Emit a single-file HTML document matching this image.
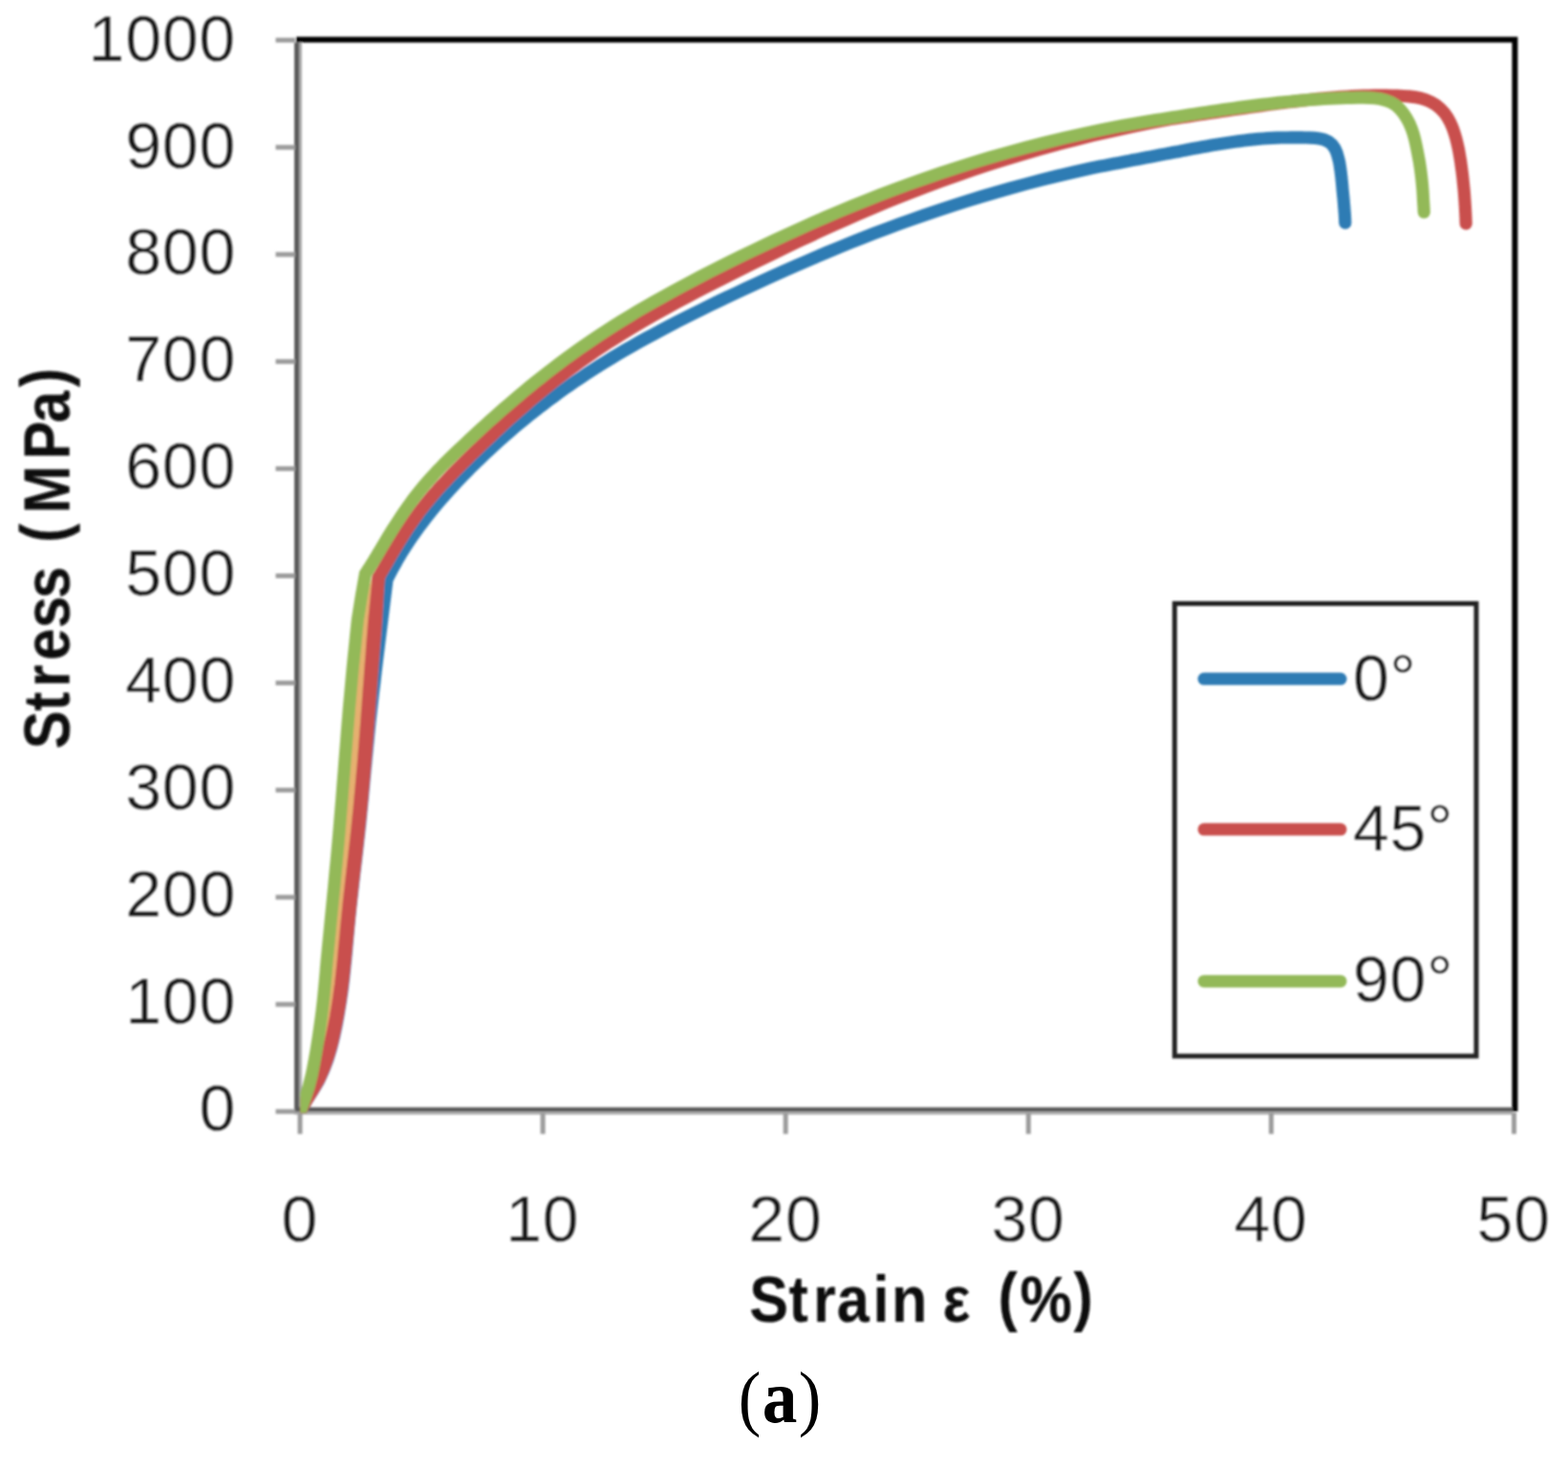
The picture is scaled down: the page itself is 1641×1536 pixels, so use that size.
<!DOCTYPE html>
<html lang="en">
<head>
<meta charset="utf-8">
<title>Stress-strain curves (a)</title>
<style>
html,body{margin:0;padding:0;background:#fff;}
body{width:1641px;height:1536px;overflow:hidden;}
svg{display:block;}
.num{font-family:"Liberation Sans","DejaVu Sans",sans-serif;font-size:68px;fill:#151515;letter-spacing:0.8px;stroke:#fff;stroke-width:0.35px;stroke-linejoin:round;}
.ttl{font-family:"Liberation Sans","DejaVu Sans",sans-serif;font-size:68px;font-weight:bold;fill:#0a0a0a;}
.cap{font-family:"Liberation Serif","DejaVu Serif",serif;fill:#000;}
</style>
</head>
<body>
<svg width="1641" height="1536" viewBox="0 0 1641 1536">
<defs>
<clipPath id="plot"><rect x="314.3" y="38" width="1275" height="1126.5"/></clipPath>
<filter id="soft" x="-5%" y="-5%" width="110%" height="110%"><feGaussianBlur stdDeviation="1.15"/></filter>
</defs>
<rect width="1641" height="1536" fill="#fff"/>
<g filter="url(#soft)">
<!-- plot border -->
<path d="M310,41.5 H1585.4 V1163" fill="none" stroke="#000" stroke-width="6" stroke-linejoin="miter"/>
<!-- axes -->
<rect x="308" y="44.5" width="5.4" height="1120.5" fill="#5c5c5c"/><rect x="313.4" y="44.5" width="2.4" height="1114.5" fill="#a2a2a2"/>
<rect x="308" y="1158.6" width="1275" height="4.6" fill="#585858"/><rect x="308" y="1163.2" width="1275" height="3" fill="#a8a8a8"/>
<g stroke="#9c9c9c" stroke-width="5"><line x1="288.5" y1="42.0" x2="309" y2="42.0"/><line x1="288.5" y1="154.1" x2="309" y2="154.1"/><line x1="288.5" y1="266.2" x2="309" y2="266.2"/><line x1="288.5" y1="378.3" x2="309" y2="378.3"/><line x1="288.5" y1="490.4" x2="309" y2="490.4"/><line x1="288.5" y1="602.5" x2="309" y2="602.5"/><line x1="288.5" y1="714.6" x2="309" y2="714.6"/><line x1="288.5" y1="826.7" x2="309" y2="826.7"/><line x1="288.5" y1="938.8" x2="309" y2="938.8"/><line x1="288.5" y1="1050.9" x2="309" y2="1050.9"/><line x1="288.5" y1="1163.0" x2="309" y2="1163.0"/><line x1="314.0" y1="1164" x2="314.0" y2="1186.5"/><line x1="568.1" y1="1164" x2="568.1" y2="1186.5"/><line x1="822.2" y1="1164" x2="822.2" y2="1186.5"/><line x1="1076.3" y1="1164" x2="1076.3" y2="1186.5"/><line x1="1330.4" y1="1164" x2="1330.4" y2="1186.5"/><line x1="1584.5" y1="1164" x2="1584.5" y2="1186.5"/></g>
<!-- curves -->
<g clip-path="url(#plot)" fill="none" stroke-width="13.2" stroke-linejoin="miter" stroke-miterlimit="6" stroke-linecap="round">
<path d="M314.0,1163.0 L320.3,1152.3 L327.0,1141.9 L333.3,1131.2 L338.5,1119.9 L342.9,1108.3 L346.5,1096.4 L349.5,1084.4 L352.1,1072.2 L354.3,1060.0 L356.3,1047.8 L358.1,1035.5 L359.6,1023.2 L360.9,1010.8 L362.1,998.5 L363.2,986.1 L364.3,973.8 L365.5,961.4 L366.7,949.1 L368.1,936.7 L369.5,924.4 L370.9,912.1 L372.4,899.8 L373.8,887.4 L375.2,875.1 L376.6,862.8 L377.8,850.4 L379.0,838.1 L380.2,825.7 L381.3,813.4 L382.5,801.0 L383.7,788.7 L384.9,776.3 L386.1,764.0 L387.4,751.6 L388.8,739.3 L390.2,727.0 L391.7,714.6 L393.1,702.3 L394.6,690.0 L405.0,606.4 L406.7,603.1 L408.4,599.8 L410.1,596.5 L411.9,593.3 L413.7,590.0 L415.5,586.8 L417.4,583.5 L419.3,580.3 L421.3,577.1 L423.3,573.9 L425.4,570.7 L427.5,567.5 L429.6,564.2 L431.8,561.0 L434.1,557.8 L436.4,554.6 L438.7,551.4 L441.1,548.2 L443.6,544.9 L446.1,541.7 L448.7,538.4 L451.3,535.2 L454.0,531.9 L456.7,528.6 L459.5,525.3 L462.4,522.0 L465.3,518.6 L468.3,515.3 L471.3,511.9 L474.5,508.5 L477.7,505.1 L480.9,501.6 L484.2,498.2 L487.7,494.7 L491.1,491.1 L494.7,487.6 L498.3,484.0 L502.1,480.4 L505.9,476.8 L509.7,473.1 L513.7,469.4 L517.8,465.7 L521.9,461.9 L526.2,458.1 L530.5,454.3 L534.9,450.5 L539.4,446.6 L544.1,442.7 L548.8,438.8 L553.6,434.9 L558.6,431.0 L563.6,427.0 L568.8,423.1 L574.1,419.1 L579.5,415.1 L585.0,411.0 L590.6,407.0 L596.4,403.0 L602.2,398.9 L608.3,394.9 L614.4,390.8 L620.7,386.7 L627.1,382.6 L633.7,378.6 L640.4,374.5 L647.2,370.4 L654.2,366.3 L661.4,362.2 L668.7,358.0 L676.2,353.9 L683.9,349.8 L691.7,345.6 L699.7,341.4 L707.8,337.1 L716.2,332.9 L724.7,328.6 L733.4,324.3 L742.3,319.9 L751.4,315.5 L760.8,311.1 L770.3,306.6 L780.0,302.0 L789.9,297.4 L800.1,292.8 L810.5,288.1 L821.1,283.3 L831.9,278.5 L843.0,273.7 L854.4,268.8 L865.9,263.9 L877.8,259.0 L889.9,254.0 L902.3,249.1 L914.9,244.2 L927.8,239.3 L941.0,234.4 L954.5,229.6 L968.3,224.7 L982.4,220.0 L996.8,215.2 L1011.6,210.5 L1026.6,205.9 L1042.0,201.4 L1057.7,196.9 L1073.8,192.5 L1090.3,188.2 L1107.0,184.0 L1124.2,180.0 L1141.8,176.0 L1146.6,175.1 L1151.4,174.1 L1156.3,173.2 L1161.1,172.3 L1166.0,171.3 L1170.8,170.4 L1175.6,169.5 L1180.5,168.6 L1185.3,167.6 L1190.2,166.7 L1195.0,165.8 L1199.9,164.8 L1204.7,163.9 L1209.6,163.0 L1214.4,162.1 L1219.3,161.1 L1224.1,160.2 L1229.0,159.3 L1233.9,158.4 L1238.7,157.4 L1243.6,156.5 L1248.4,155.6 L1253.3,154.7 L1258.2,153.8 L1263.1,152.9 L1267.9,152.1 L1272.8,151.3 L1277.7,150.5 L1282.6,149.7 L1287.5,149.0 L1292.4,148.3 L1297.3,147.6 L1302.2,147.0 L1307.1,146.4 L1312.0,145.9 L1316.9,145.4 L1321.8,145.0 L1326.7,144.7 L1331.6,144.4 L1336.5,144.2 L1341.5,144.0 L1346.4,144.0 L1351.3,143.9 L1356.3,143.9 L1361.2,143.9 L1366.2,144.0 L1371.1,144.1 L1376.0,144.4 L1380.9,145.0 L1385.7,146.1 L1390.3,148.1 L1394.1,151.3 L1397.0,155.3 L1399.0,159.8 L1400.4,164.6 L1401.6,169.4 L1402.4,174.2 L1403.1,179.1 L1403.7,184.0 L1404.2,188.9 L1404.7,193.8 L1405.1,198.8 L1405.6,203.7 L1406.1,208.6 L1406.5,213.5 L1406.9,218.4 L1407.3,223.3 L1407.6,228.3 L1407.8,233.2" stroke="#2f7cb4"/>
<path d="M314.0,1163.0 L318.2,1155.2 L322.7,1147.6 L327.0,1140.1 L330.6,1132.5 L333.3,1124.5 L335.2,1116.3 L336.4,1108.0 L337.2,1099.5 L339.0,1091.0 L340.7,1082.3 L342.3,1073.6 L343.7,1064.9 L345.0,1056.2 L346.2,1047.4 L347.3,1038.6 L348.3,1029.8 L349.2,1021.0 L350.0,1012.2 L350.9,1003.4 L351.7,994.5 L352.6,985.7 L353.4,976.9 L354.3,968.0 L355.1,959.2 L356.0,950.4 L356.9,941.6 L357.8,932.8 L358.8,923.9 L359.7,915.1 L360.6,906.3 L361.5,897.5 L362.4,888.7 L363.3,879.9 L364.2,871.0 L365.0,862.2 L365.9,853.4 L366.7,844.6 L367.4,835.7 L368.2,826.9 L368.9,818.1 L369.7,809.2 L370.4,800.4 L371.1,791.5 L371.8,782.7 L372.5,773.8 L373.2,765.0 L373.9,756.2 L374.6,747.3 L375.3,738.5 L376.0,729.6 L376.7,720.8 L377.5,711.9 L378.2,703.1 L379.0,694.2 L379.8,685.4 L380.5,676.5 L381.3,667.7 L382.1,658.8 L382.9,650.0 L396.2,604.0" stroke="#e6b070"/>
<path d="M314.0,1163.0 L318.2,1155.2 L322.7,1147.6 L327.2,1140.1 L331.5,1132.5 L335.2,1124.5 L338.3,1116.3 L341.1,1108.0 L343.4,1099.5 L345.7,1091.0 L347.8,1082.3 L349.6,1073.6 L351.3,1064.9 L352.8,1056.2 L354.2,1047.4 L355.4,1038.6 L356.6,1029.8 L357.6,1021.0 L358.6,1012.2 L359.5,1003.4 L360.3,994.5 L361.2,985.7 L362.0,976.9 L362.8,968.0 L363.7,959.2 L364.6,950.4 L365.5,941.6 L366.5,932.8 L367.5,923.9 L368.5,915.1 L369.5,906.3 L370.5,897.5 L371.5,888.7 L372.5,879.9 L373.5,871.0 L374.4,862.2 L375.3,853.4 L376.2,844.6 L377.0,835.7 L377.8,826.9 L378.6,818.1 L379.4,809.2 L380.2,800.4 L380.9,791.5 L381.6,782.7 L382.3,773.8 L383.0,765.0 L383.7,756.2 L384.3,747.3 L385.0,738.5 L385.6,729.6 L386.3,720.8 L387.0,711.9 L387.6,703.1 L388.3,694.2 L389.0,685.4 L389.6,676.5 L390.3,667.7 L391.0,658.8 L391.7,650.0 L396.2,604.0" stroke="#c9504e"/>
<path d="M314.0,1163.0 L320.5,1151.2 L327.7,1139.9 L334.3,1128.2 L339.6,1115.9 L344.0,1103.2 L347.6,1090.3 L350.5,1077.2 L353.1,1064.0 L355.4,1050.8 L357.3,1037.5 L359.0,1024.2 L360.4,1010.8 L361.7,997.5 L363.0,984.1 L364.3,970.8 L365.6,957.4 L367.0,944.1 L368.4,930.7 L369.9,917.4 L371.5,904.0 L373.0,890.7 L374.5,877.4 L375.9,864.0 L377.3,850.7 L378.6,837.3 L379.8,824.0 L381.0,810.6 L382.1,797.2 L383.2,783.8 L384.3,770.4 L385.3,757.1 L386.3,743.7 L387.3,730.3 L388.3,716.9 L389.3,703.5 L390.3,690.1 L391.3,676.8 L392.4,663.4 L393.4,650.0 L396.2,604.0 L397.8,601.3 L399.4,598.4 L401.1,595.5 L402.8,592.5 L404.6,589.4 L406.4,586.3 L408.3,583.1 L410.1,579.8 L412.1,576.5 L414.1,573.2 L416.1,569.8 L418.2,566.4 L420.3,563.0 L422.5,559.5 L424.7,556.0 L427.0,552.5 L429.4,549.0 L431.8,545.5 L434.2,542.0 L436.8,538.5 L439.3,535.0 L442.0,531.6 L444.7,528.1 L447.5,524.7 L450.3,521.3 L453.2,517.9 L456.2,514.5 L459.2,511.0 L462.4,507.6 L465.6,504.2 L468.8,500.7 L472.2,497.2 L475.6,493.6 L479.2,490.1 L482.8,486.4 L486.5,482.8 L490.3,479.0 L494.1,475.2 L498.1,471.4 L502.2,467.5 L506.3,463.5 L510.6,459.4 L515.0,455.3 L519.4,451.1 L524.0,446.9 L528.7,442.5 L533.5,438.2 L538.4,433.8 L543.5,429.3 L548.6,424.9 L553.9,420.3 L559.3,415.8 L564.9,411.2 L570.6,406.5 L576.4,401.9 L582.3,397.2 L588.4,392.5 L594.7,387.8 L601.1,383.1 L607.6,378.3 L614.4,373.6 L621.2,368.8 L628.3,364.1 L635.5,359.3 L642.9,354.6 L650.4,349.9 L658.2,345.1 L666.1,340.4 L674.2,335.6 L682.6,330.8 L691.1,326.0 L699.8,321.2 L708.8,316.3 L717.9,311.4 L727.3,306.5 L736.9,301.5 L746.8,296.4 L756.8,291.3 L767.2,286.1 L777.7,280.8 L788.6,275.4 L799.6,270.0 L811.0,264.5 L822.6,258.8 L834.5,253.1 L846.8,247.4 L859.2,241.6 L872.0,235.7 L885.2,229.9 L898.6,224.0 L912.3,218.1 L926.4,212.2 L940.8,206.4 L955.6,200.5 L970.7,194.8 L986.2,189.0 L1002.1,183.4 L1018.3,177.8 L1035.0,172.3 L1052.0,166.9 L1069.5,161.6 L1087.4,156.4 L1105.7,151.4 L1124.5,146.5 L1143.7,141.7 L1163.3,137.2 L1183.5,132.8 L1204.1,128.6 L1225.3,124.6 L1231.2,123.7 L1237.1,122.8 L1243.0,121.9 L1248.9,121.0 L1254.8,120.1 L1260.7,119.2 L1266.6,118.3 L1272.5,117.4 L1278.4,116.5 L1284.3,115.7 L1290.2,114.8 L1296.1,113.9 L1302.0,113.1 L1308.0,112.3 L1313.9,111.4 L1319.8,110.6 L1325.7,109.8 L1331.6,109.0 L1337.5,108.3 L1343.5,107.5 L1349.4,106.8 L1355.3,106.1 L1361.3,105.4 L1367.2,104.7 L1373.1,104.0 L1379.1,103.4 L1385.0,102.9 L1391.0,102.3 L1396.9,101.9 L1402.9,101.4 L1408.8,101.0 L1414.8,100.7 L1420.8,100.4 L1426.7,100.2 L1432.7,100.0 L1438.7,99.9 L1444.7,99.9 L1450.7,99.9 L1456.7,100.0 L1462.7,100.2 L1468.7,100.5 L1474.7,100.9 L1480.6,101.6 L1486.5,102.7 L1492.2,104.4 L1497.7,106.8 L1502.9,109.9 L1507.5,113.7 L1511.6,118.1 L1515.0,123.0 L1517.9,128.3 L1520.3,133.8 L1522.2,139.4 L1523.9,145.2 L1525.3,151.0 L1526.6,156.8 L1527.6,162.7 L1528.6,168.6 L1529.4,174.5 L1530.2,180.4 L1530.9,186.3 L1531.5,192.3 L1532.1,198.2 L1532.6,204.2 L1533.0,210.1 L1533.4,216.1 L1533.7,222.1 L1534.0,228.0 L1534.2,234.0" stroke="#c9504e"/>
<path d="M314.0,1163.0 L318.7,1150.5 L322.9,1137.9 L326.2,1125.0 L328.8,1111.9 L331.1,1098.8 L333.2,1085.6 L335.1,1072.5 L336.9,1059.2 L338.4,1046.0 L339.7,1032.8 L340.9,1019.5 L342.0,1006.2 L343.3,992.9 L344.6,979.7 L345.9,966.4 L347.2,953.2 L348.5,939.9 L349.8,926.7 L351.0,913.4 L352.3,900.1 L353.5,886.9 L354.7,873.6 L355.8,860.3 L356.9,847.0 L358.0,833.8 L359.0,820.5 L360.1,807.2 L361.1,793.9 L362.2,780.6 L363.2,767.4 L364.3,754.1 L365.4,740.8 L366.6,727.5 L367.8,714.3 L369.0,701.0 L370.3,687.8 L371.7,674.5 L373.0,661.2 L374.4,648.0 L378.4,623.0 L382.4,600.3 L383.8,598.3 L385.1,596.2 L386.6,594.0 L388.0,591.7 L389.5,589.3 L391.1,586.8 L392.6,584.2 L394.3,581.5 L395.9,578.7 L397.6,575.9 L399.4,572.9 L401.2,569.9 L403.0,566.9 L404.9,563.7 L406.8,560.5 L408.8,557.3 L410.8,554.0 L412.9,550.7 L415.1,547.4 L417.3,544.0 L419.5,540.6 L421.8,537.1 L424.2,533.7 L426.6,530.2 L429.1,526.8 L431.7,523.3 L434.3,519.8 L437.0,516.4 L439.8,512.9 L442.6,509.5 L445.5,506.1 L448.5,502.7 L451.6,499.3 L454.7,495.9 L457.9,492.4 L461.2,489.0 L464.6,485.5 L468.1,482.1 L471.7,478.5 L475.3,475.0 L479.1,471.4 L482.9,467.7 L486.9,464.0 L491.0,460.2 L495.1,456.4 L499.4,452.4 L503.7,448.4 L508.2,444.4 L512.8,440.2 L517.6,436.0 L522.4,431.7 L527.4,427.3 L532.5,422.9 L537.7,418.4 L543.1,413.9 L548.6,409.3 L554.2,404.6 L560.0,399.9 L566.0,395.2 L572.1,390.4 L578.3,385.6 L584.7,380.7 L591.3,375.8 L598.1,370.9 L605.0,365.9 L612.1,361.0 L619.4,356.0 L626.8,351.0 L634.5,345.9 L642.4,340.9 L650.4,335.9 L658.7,330.8 L667.2,325.7 L675.9,320.6 L684.9,315.5 L694.0,310.4 L703.4,305.2 L713.1,300.0 L723.0,294.7 L733.1,289.4 L743.5,284.0 L754.2,278.6 L765.2,273.2 L776.4,267.7 L788.0,262.1 L799.8,256.5 L811.9,250.7 L824.4,245.0 L837.1,239.2 L850.2,233.3 L863.7,227.4 L877.5,221.5 L891.6,215.6 L906.1,209.8 L921.0,203.9 L936.3,198.1 L951.9,192.4 L968.0,186.7 L984.5,181.0 L1001.4,175.5 L1018.7,170.0 L1036.5,164.7 L1054.8,159.5 L1073.5,154.4 L1092.7,149.5 L1112.4,144.7 L1132.6,140.1 L1153.4,135.6 L1174.6,131.4 L1180.4,130.4 L1186.3,129.5 L1192.1,128.5 L1197.9,127.5 L1203.8,126.6 L1209.6,125.6 L1215.4,124.7 L1221.3,123.8 L1227.1,122.8 L1232.9,121.9 L1238.8,121.0 L1244.6,120.1 L1250.4,119.2 L1256.3,118.3 L1262.1,117.4 L1268.0,116.5 L1273.8,115.7 L1279.7,114.8 L1285.5,114.0 L1291.4,113.2 L1297.3,112.4 L1303.1,111.6 L1309.0,110.9 L1314.9,110.1 L1320.8,109.4 L1326.6,108.7 L1332.5,108.1 L1338.4,107.4 L1344.3,106.8 L1350.2,106.2 L1356.1,105.7 L1362.0,105.2 L1367.8,104.7 L1373.7,104.2 L1379.6,103.8 L1385.5,103.5 L1391.4,103.1 L1397.3,102.9 L1403.2,102.6 L1409.1,102.4 L1415.0,102.3 L1420.9,102.2 L1426.8,102.1 L1432.8,102.3 L1438.7,102.7 L1444.6,103.6 L1450.4,105.0 L1455.9,107.1 L1460.9,110.2 L1465.2,114.3 L1469.0,118.9 L1472.2,123.9 L1475.0,129.1 L1477.3,134.6 L1479.2,140.2 L1480.7,145.9 L1482.0,151.6 L1483.2,157.5 L1484.3,163.3 L1485.4,169.1 L1486.3,174.9 L1487.1,180.8 L1487.8,186.6 L1488.4,192.5 L1488.9,198.4 L1489.3,204.3 L1489.6,210.2 L1490.0,216.1 L1490.3,222.0" stroke="#93b958"/>
</g>
<!-- legend -->
<rect x="1229.3" y="631.5" width="315.7" height="473.5" fill="none" stroke="#222" stroke-width="5"/>
<g stroke-width="13" stroke-linecap="round">
<line x1="1260" y1="710.3" x2="1403" y2="710.3" stroke="#2f7cb4"/>
<line x1="1260" y1="867.8" x2="1403" y2="867.8" stroke="#c9504e"/>
<line x1="1260" y1="1026.7" x2="1403" y2="1026.7" stroke="#93b958"/>
</g>
<g class="num">
<text x="1416" y="732.5">0°</text>
<text x="1416" y="889.8">45°</text>
<text x="1416" y="1048">90°</text>
<text x="247" y="63.6" text-anchor="end">1000</text><text x="247" y="175.5" text-anchor="end">900</text><text x="247" y="287.4" text-anchor="end">800</text><text x="247" y="399.3" text-anchor="end">700</text><text x="247" y="511.2" text-anchor="end">600</text><text x="247" y="623.1" text-anchor="end">500</text><text x="247" y="735.0" text-anchor="end">400</text><text x="247" y="846.9" text-anchor="end">300</text><text x="247" y="958.8" text-anchor="end">200</text><text x="247" y="1070.7" text-anchor="end">100</text><text x="247" y="1182.6" text-anchor="end">0</text>
<text x="313.7" y="1298.9" text-anchor="middle">0</text><text x="567.8" y="1298.9" text-anchor="middle">10</text><text x="821.9" y="1298.9" text-anchor="middle">20</text><text x="1076.0" y="1298.9" text-anchor="middle">30</text><text x="1330.1" y="1298.9" text-anchor="middle">40</text><text x="1584.2" y="1298.9" text-anchor="middle">50</text>
</g>
<g class="ttl">
<text transform="translate(72.6,779.3) rotate(-90) scale(0.8850,1)" x="-4.98 39.81 68.26 99.68 138.02 172.92 214.74 238.94 273.43 337.24 380.54 422.82" y="0" dy="0.0 0.0 0.0 0.0 0.0 0.0 0.0 -2.6 2.6 0.0 0.0 -2.6">Stress (MPa)</text>
<text transform="translate(789.1,1382.8) scale(0.9000,1)" x="-5.38 40.51 68.71 96.38 138.25 159.93 205.47 219.36 255.63 283.80 309.26 371.45" y="0" dy="0.0 0.0 0.0 0.0 0.0 0.0 0.0 0.0 0.0 -2.6 2.6 -2.6">Strain ε (%)</text>
</g>
</g>
<g class="cap">
<text transform="scale(0.92,1)" x="839.98 869.6 908.4" y="1487.6" font-size="77">(a)</text>
<text transform="translate(797.7,1487.6) scale(0.94,1)" x="0" y="0" font-size="78" font-weight="bold">a</text>
</g>
</svg>
</body>
</html>
